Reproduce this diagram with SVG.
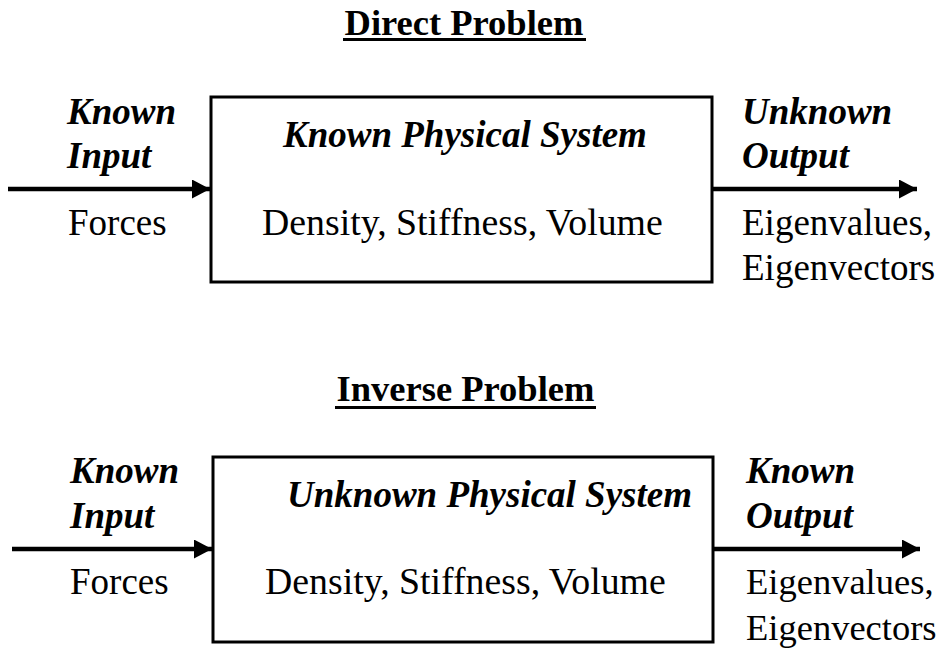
<svg xmlns="http://www.w3.org/2000/svg" width="938" height="648" viewBox="0 0 938 648">
<style>
.box{fill:#fff;stroke:#000;stroke-width:3}
.ln{stroke:#000;stroke-width:4.5;fill:none}
</style>
<defs>
<marker id="ah" markerWidth="18" markerHeight="19" refX="18" refY="9.5" orient="auto" markerUnits="userSpaceOnUse">
<path d="M0,0 L18,9.5 L0,19 Z" fill="#000"/>
</marker>
</defs>
<rect width="938" height="648" fill="#fff"/>
<g id="title1">
<text font-family="Liberation Serif, serif" font-size="36.5" font-weight="bold" x="464" y="35" text-anchor="middle">Direct Problem</text>
<rect x="343" y="38" width="243" height="3" fill="#000"/>
</g>
<g id="title2">
<text font-family="Liberation Serif, serif" font-size="36.5" font-weight="bold" x="465.5" y="401" text-anchor="middle">Inverse Problem</text>
<rect x="335" y="406" width="261" height="3" fill="#000"/>
</g>
<g id="connectors">
<line class="ln" x1="8" y1="189" x2="210" y2="189" marker-end="url(#ah)"/>
<line class="ln" x1="712" y1="189" x2="917" y2="189" marker-end="url(#ah)"/>
<line class="ln" x1="12" y1="549" x2="212" y2="549" marker-end="url(#ah)"/>
<line class="ln" x1="714" y1="549" x2="920" y2="549" marker-end="url(#ah)"/>
</g>
<g id="input1">
<text font-family="Liberation Serif, serif" font-size="37" font-weight="bold" font-style="italic" x="67" y="124">Known</text>
<text font-family="Liberation Serif, serif" font-size="37" font-weight="bold" font-style="italic" x="67" y="168">Input</text>
<text font-family="Liberation Serif, serif" font-size="37" x="68" y="235">Forces</text>
</g>
<g id="system1">
<rect class="box" x="211" y="97" width="501" height="185"/>
<text font-family="Liberation Serif, serif" font-size="37" font-weight="bold" font-style="italic" x="283" y="147">Known Physical System</text>
<text font-family="Liberation Serif, serif" font-size="37.8" x="262" y="235">Density, Stiffness, Volume</text>
</g>
<g id="output1">
<text font-family="Liberation Serif, serif" font-size="37" font-weight="bold" font-style="italic" x="742" y="124">Unknown</text>
<text font-family="Liberation Serif, serif" font-size="37" font-weight="bold" font-style="italic" x="742" y="168">Output</text>
<text font-family="Liberation Serif, serif" font-size="37" x="742" y="235">Eigenvalues,</text>
<text font-family="Liberation Serif, serif" font-size="37" x="742" y="280">Eigenvectors</text>
</g>
<g id="input2">
<text font-family="Liberation Serif, serif" font-size="37" font-weight="bold" font-style="italic" x="70" y="483">Known</text>
<text font-family="Liberation Serif, serif" font-size="37" font-weight="bold" font-style="italic" x="70" y="528">Input</text>
<text font-family="Liberation Serif, serif" font-size="37" x="70" y="594">Forces</text>
</g>
<g id="system2">
<rect class="box" x="213" y="457" width="500" height="185"/>
<text font-family="Liberation Serif, serif" font-size="37" font-weight="bold" font-style="italic" x="287" y="507">Unknown Physical System</text>
<text font-family="Liberation Serif, serif" font-size="37.8" x="265" y="594">Density, Stiffness, Volume</text>
</g>
<g id="output2">
<text font-family="Liberation Serif, serif" font-size="37" font-weight="bold" font-style="italic" x="746" y="483">Known</text>
<text font-family="Liberation Serif, serif" font-size="37" font-weight="bold" font-style="italic" x="746" y="528">Output</text>
<text font-family="Liberation Serif, serif" font-size="36.5" x="746" y="594">Eigenvalues,</text>
<text font-family="Liberation Serif, serif" font-size="36.5" x="746" y="640">Eigenvectors</text>
</g>
</svg>
